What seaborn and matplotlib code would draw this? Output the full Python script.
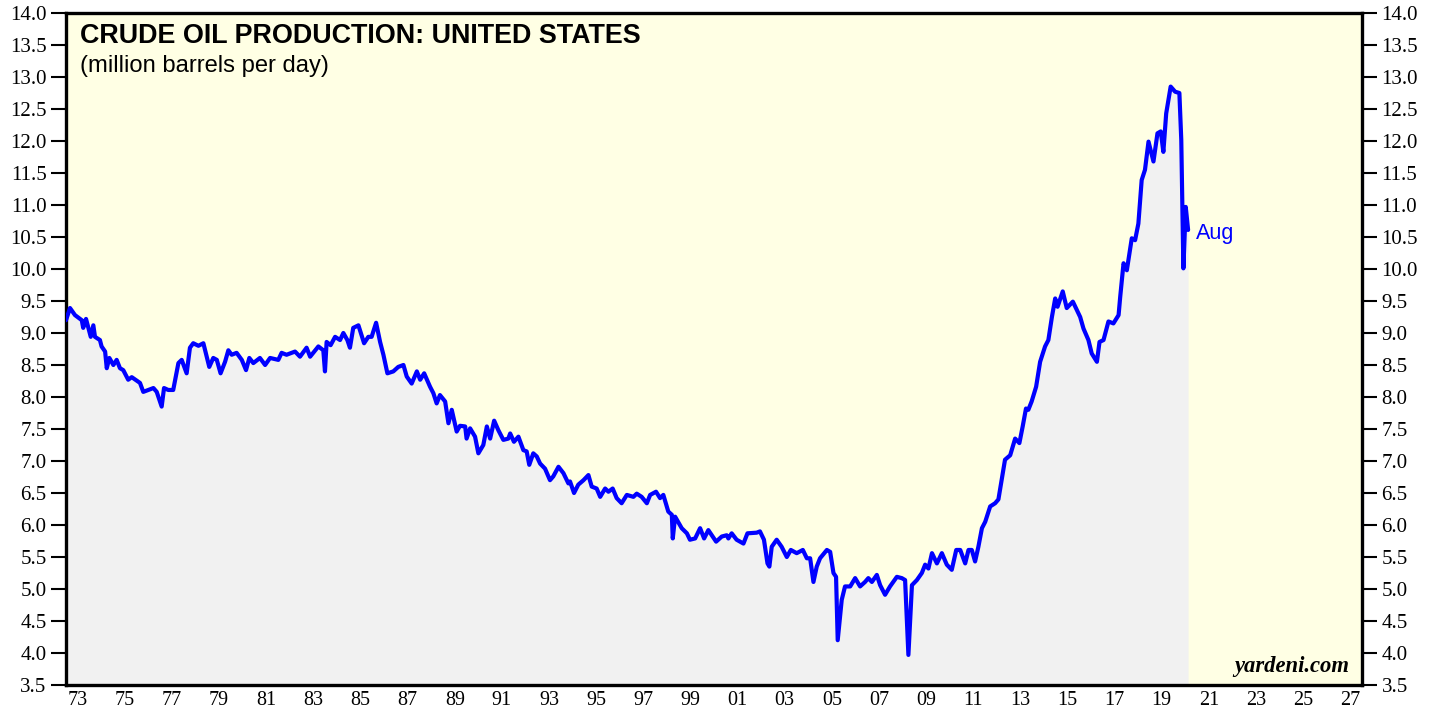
import numpy as np
import pandas as pd
import matplotlib
matplotlib.use("Agg")
import matplotlib.pyplot as plt
import seaborn as sns

# Crude oil production, US (million barrels per day)
# time given as decimal years
t_1973_85 = [1973.00, 1973.17, 1973.38, 1973.67, 1973.73, 1973.85, 1974.05, 1974.16,
             1974.23, 1974.44, 1974.51, 1974.66, 1974.73, 1974.84, 1975.01, 1975.15,
             1975.29, 1975.43, 1975.64, 1975.79, 1976.14, 1976.28, 1976.71, 1976.85,
             1977.06, 1977.16, 1977.34, 1977.55, 1977.77, 1977.91, 1978.12, 1978.26,
             1978.40, 1978.62, 1978.83, 1979.08, 1979.25, 1979.40, 1979.56, 1979.75,
             1979.89, 1980.03, 1980.24, 1980.46, 1980.64, 1980.78, 1980.95, 1981.23,
             1981.45, 1981.66, 1982.01, 1982.15, 1982.36, 1982.72, 1982.93, 1983.21,
             1983.36, 1983.71, 1983.92, 1983.99, 1984.06, 1984.23, 1984.42, 1984.63,
             1984.77, 1984.94, 1985.05, 1985.19, 1985.41, 1985.65, 1985.83, 1985.97]
v_1973_85 = [9.20, 9.39, 9.28, 9.20, 9.08, 9.22, 8.94, 9.12,
             8.94, 8.89, 8.79, 8.71, 8.45, 8.61, 8.50, 8.58,
             8.45, 8.42, 8.27, 8.31, 8.22, 8.08, 8.14, 8.08,
             7.85, 8.14, 8.11, 8.11, 8.53, 8.58, 8.37, 8.77,
             8.84, 8.80, 8.84, 8.47, 8.61, 8.58, 8.37, 8.55,
             8.73, 8.66, 8.69, 8.58, 8.42, 8.61, 8.53, 8.61,
             8.50, 8.61, 8.58, 8.69, 8.66, 8.71, 8.63, 8.77,
             8.63, 8.79, 8.73, 8.40, 8.86, 8.81, 8.94, 8.89,
             9.00, 8.89, 8.77, 9.08, 9.12, 8.84, 8.94, 8.94]

t_1986_98 = [1986.16, 1986.33, 1986.47, 1986.64, 1986.89, 1987.10, 1987.32, 1987.46,
             1987.67, 1987.89, 1988.03, 1988.20, 1988.45, 1988.59, 1988.73, 1988.87,
             1989.09, 1989.23, 1989.37, 1989.58, 1989.72, 1989.94, 1990.00, 1990.15,
             1990.36, 1990.50, 1990.71, 1990.86, 1991.00, 1991.17, 1991.35, 1991.56,
             1991.77, 1991.85, 1992.01, 1992.20, 1992.41, 1992.55, 1992.66, 1992.83,
             1992.98, 1993.12, 1993.33, 1993.54, 1993.68, 1993.90, 1994.11, 1994.32,
             1994.39, 1994.56, 1994.74, 1994.96, 1995.17, 1995.31, 1995.52, 1995.67,
             1995.88, 1996.02, 1996.20, 1996.37, 1996.58, 1996.80, 1997.08, 1997.22,
             1997.43, 1997.65, 1997.79, 1998.04, 1998.21, 1998.35, 1998.56]
v_1986_98 = [9.16, 8.86, 8.66, 8.37, 8.40, 8.47, 8.50, 8.32,
             8.21, 8.40, 8.27, 8.37, 8.16, 8.06, 7.90, 8.03,
             7.93, 7.59, 7.80, 7.46, 7.55, 7.54, 7.35, 7.51,
             7.38, 7.12, 7.25, 7.54, 7.35, 7.63, 7.48, 7.33,
             7.35, 7.43, 7.30, 7.38, 7.17, 7.15, 6.94, 7.12,
             7.07, 6.96, 6.88, 6.70, 6.76, 6.91, 6.81, 6.65,
             6.68, 6.50, 6.63, 6.70, 6.78, 6.60, 6.57, 6.44,
             6.57, 6.52, 6.57, 6.42, 6.34, 6.47, 6.44, 6.49,
             6.44, 6.34, 6.47, 6.52, 6.42, 6.47, 6.21]

t_1998_11 = [1998.71, 1998.75, 1998.85, 1999.13, 1999.35, 1999.48, 1999.70, 1999.91,
             2000.08, 2000.26, 2000.59, 2000.83, 2001.04, 2001.11, 2001.25, 2001.46,
             2001.75, 2001.92, 2002.31, 2002.45, 2002.62, 2002.77, 2002.85, 2002.95,
             2003.16, 2003.37, 2003.59, 2003.76, 2004.01, 2004.27, 2004.44, 2004.58,
             2004.72, 2004.86, 2005.00, 2005.29, 2005.43, 2005.57, 2005.68, 2005.75,
             2005.92, 2006.06, 2006.28, 2006.49, 2006.70, 2006.91, 2007.05, 2007.20,
             2007.41, 2007.55, 2007.76, 2007.97, 2008.26, 2008.47, 2008.61, 2008.75,
             2008.90, 2009.11, 2009.32, 2009.46, 2009.60, 2009.75, 2009.96, 2010.17,
             2010.38, 2010.59, 2010.78, 2010.95, 2011.16, 2011.30, 2011.44, 2011.58,
             2011.72, 2011.87]
v_1998_11 = [6.16, 5.79, 6.13, 5.95, 5.87, 5.77, 5.79, 5.95,
             5.79, 5.92, 5.74, 5.82, 5.84, 5.79, 5.87, 5.77,
             5.71, 5.87, 5.88, 5.90, 5.77, 5.40, 5.35, 5.66,
             5.77, 5.66, 5.50, 5.61, 5.56, 5.61, 5.48, 5.48,
             5.11, 5.35, 5.48, 5.61, 5.58, 5.25, 5.19, 4.20,
             4.83, 5.04, 5.04, 5.17, 5.04, 5.11, 5.17, 5.11,
             5.22, 5.06, 4.91, 5.04, 5.19, 5.17, 5.14, 3.97,
             5.06, 5.14, 5.25, 5.38, 5.32, 5.56, 5.40, 5.56,
             5.38, 5.30, 5.61, 5.61, 5.40, 5.61, 5.61, 5.43,
             5.66, 5.95]

t_2012_20 = [2012.01, 2012.22, 2012.43, 2012.57, 2012.85, 2013.07, 2013.28, 2013.46,
             2013.60, 2013.74, 2013.84, 2013.98, 2014.17, 2014.34, 2014.55, 2014.69,
             2014.84, 2014.98, 2015.08, 2015.30, 2015.47, 2015.73, 2016.04, 2016.18,
             2016.39, 2016.53, 2016.75, 2016.86, 2017.03, 2017.24, 2017.45, 2017.67,
             2017.74, 2017.88, 2018.02, 2018.23, 2018.37, 2018.51, 2018.65, 2018.79,
             2018.94, 2019.15, 2019.32, 2019.46, 2019.57, 2019.69, 2019.88, 2020.07,
             2020.25, 2020.33, 2020.42, 2020.52, 2020.62]
v_2012_20 = [6.05, 6.29, 6.34, 6.40, 7.02, 7.09, 7.35, 7.28,
             7.54, 7.82, 7.80, 7.93, 8.16, 8.55, 8.79, 8.89,
             9.25, 9.54, 9.41, 9.65, 9.39, 9.49, 9.25, 9.07,
             8.89, 8.68, 8.55, 8.86, 8.89, 9.18, 9.15, 9.28,
             9.57, 10.09, 9.98, 10.48, 10.45, 10.71, 11.39, 11.55,
             11.99, 11.68, 12.12, 12.15, 11.83, 12.43, 12.85, 12.77,
             12.75, 12.02, 10.01, 10.97, 10.61]

year_ticks = np.arange(1973, 2029)
label_years = np.arange(1973, 2028, 2)
y_ticks = np.arange(3.5, 14.01, 0.5)

df = pd.DataFrame({
    "year": t_1973_85 + t_1986_98 + t_1998_11 + t_2012_20,
    "mbd": v_1973_85 + v_1986_98 + v_1998_11 + v_2012_20,
})

sns.set_style("white")
plt.rcParams["font.family"] = ["Liberation Sans", "DejaVu Sans"]
plt.rcParams["text.color"] = "black"
plt.rcParams["xtick.color"] = "black"
plt.rcParams["ytick.color"] = "black"

fig = plt.figure(figsize=(14.39, 7.17), dpi=100)
ax = fig.add_axes([66 / 1439, 1 - 685 / 717, 1296 / 1439, 672 / 717])
ax.set_facecolor("#ffffe4")

ax.fill_between(df["year"], 3.5, df["mbd"], color="#f1f1f1", lw=0, zorder=1)
sns.lineplot(data=df, x="year", y="mbd", color="#0000ff", lw=3.0, ax=ax, zorder=3)

ax.set_xlim(1973, 2028)
ax.set_ylim(3.5, 14.0)
ax.set_xlabel("")
ax.set_ylabel("")

# year ticks on the boundaries, labels mid-year
ax.set_xticks(year_ticks)
ax.set_xticklabels([])
ax.set_xticks(label_years + 0.5, minor=True)
ax.set_xticklabels([f"{y % 100:02d}" for y in label_years], minor=True,
                   fontfamily="Liberation Serif", fontsize=14.5)
ax.tick_params(axis="x", which="major", direction="out", length=6, width=2, color="black")
ax.tick_params(axis="x", which="minor", length=0, pad=4)

ax.set_yticks(y_ticks)
ax.set_yticklabels([f"{v:.1f}" for v in y_ticks], fontfamily="Liberation Serif", fontsize=15)
ax.tick_params(axis="y", which="major", direction="out", length=11, width=1.5,
               color="black", left=True, right=True, labelleft=True, labelright=True, pad=3)

for s in ax.spines.values():
    s.set_visible(True)
    s.set_color("black")
    s.set_linewidth(2.4)

ax.text(0.011, 0.985, "CRUDE OIL PRODUCTION: UNITED STATES", transform=ax.transAxes,
        fontsize=19.4, fontweight="bold", va="top", ha="left")
ax.text(0.011, 0.938, "(million barrels per day)", transform=ax.transAxes,
        fontsize=17.1, va="top", ha="left")
ax.text(df["year"].iloc[-1] + 0.32, 10.56, "Aug", color="#0000ff", fontsize=15.5,
        va="center", ha="left")
ax.text(0.99, 0.012, "yardeni.com", transform=ax.transAxes, fontsize=16.3,
        fontfamily="Liberation Serif", fontweight="bold", fontstyle="italic",
        va="bottom", ha="right")

fig.savefig("out.png", dpi=100)
